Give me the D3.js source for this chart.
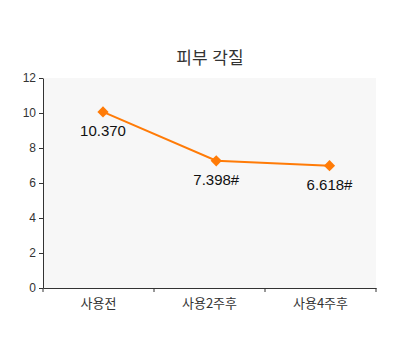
<!DOCTYPE html>
<html><head><meta charset="utf-8">
<script src="https://cdn.jsdelivr.net/npm/d3@7"></script>
<style>body{margin:0;background:#fff;} text{font-family:"Liberation Sans","Noto Sans CJK KR",sans-serif;}</style>
</head><body>
<svg id="c" width="400" height="360"></svg>
<script>
const title = "피부 각질";
const categories = ["사용전", "사용2주후", "사용4주후"];
const values = [10.06, 7.27, 6.99];
const valueLabels = ["10.370", "7.398#", "6.618#"];
const yTicks = [0, 2, 4, 6, 8, 10, 12];

const svg = d3.select("#c");
const m = {left: 43, right: 24, top: 78, bottom: 72};
const W = 400, H = 360;
const x0 = m.left, x1 = W - m.right, y0 = H - m.bottom, y1 = m.top;
const color = "#ff7b07";

const x = d3.scaleBand().domain(categories).range([x0, x1]);
const xp = d3.scalePoint().domain(categories).range([x0 + 60, x1 - 46.5]);
const y = d3.scaleLinear().domain([0, 12]).range([y0, y1]);

svg.append("rect").attr("x", x0).attr("y", y1).attr("width", x1 - x0).attr("height", y0 - y1).attr("fill", "#f7f7f7");

svg.append("text").attr("x", 210).attr("y", 64).attr("text-anchor", "middle")
  .attr("font-size", 17).attr("fill", "#333").text(title);

const ya = svg.append("g").attr("transform", `translate(${x0},0)`)
  .call(d3.axisLeft(y).tickValues(yTicks).tickSize(4).tickPadding(3).tickSizeOuter(0));
ya.select(".domain").attr("stroke", "#333");
ya.selectAll(".tick line").attr("stroke", "#333");
ya.selectAll(".tick text").attr("font-size", 12).attr("fill", "#333")
  .style("font-family", "'Liberation Sans',sans-serif");

const xa = svg.append("g").attr("transform", `translate(0,${y0})`)
  .call(d3.axisBottom(x).tickSize(0).tickPadding(11));
xa.select(".domain").attr("stroke", "#333");
xa.selectAll(".tick text").attr("font-size", 13).attr("fill", "#333")
  .style("font-family", "'Noto Sans CJK KR','Liberation Sans',sans-serif");
const edges = [x0].concat(categories.map(c => x(c) + x.bandwidth()));
svg.append("g").selectAll("line").data(edges).join("line")
  .attr("x1", d => d).attr("x2", d => d).attr("y1", y0).attr("y2", y0 + 4)
  .attr("stroke", "#333");

const data = categories.map((c, i) => ({c, v: values[i], l: valueLabels[i]}));
svg.append("path").datum(data)
  .attr("d", d3.line().x(d => xp(d.c)).y(d => y(d.v)))
  .attr("fill", "none").attr("stroke", color).attr("stroke-width", 2);

svg.append("g").selectAll("path").data(data).join("path")
  .attr("d", d3.symbol(d3.symbolDiamond2, 80)())
  .attr("transform", d => `translate(${xp(d.c)},${y(d.v)})`)
  .attr("fill", color);

svg.append("g").selectAll("text").data(data).join("text")
  .attr("x", d => xp(d.c)).attr("y", d => y(d.v) + 24.5)
  .attr("text-anchor", "middle").attr("font-size", 15).attr("fill", "#111")
  .text(d => d.l);
</script>
</body></html>
